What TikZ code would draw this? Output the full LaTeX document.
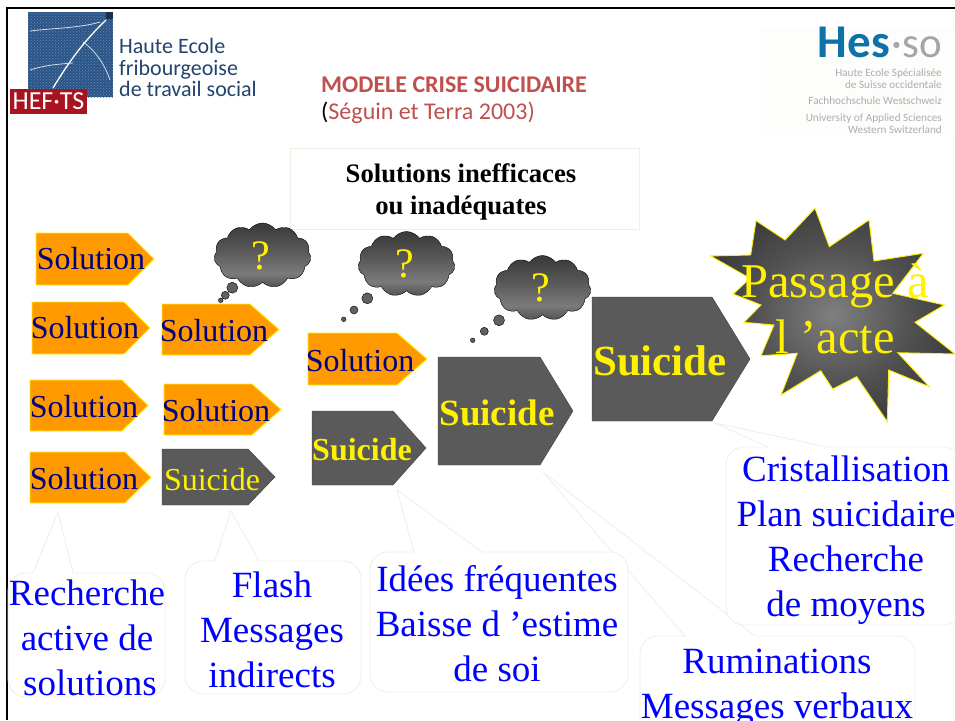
\documentclass[tikz,border=0pt]{standalone}
\usepackage{fontspec}
\setmainfont{Liberation Serif}
\newfontfamily\calibrifont{Carlito}
\usetikzlibrary{shapes.symbols,patterns}
\definecolor{boxorange}{HTML}{FF9900}
\definecolor{boxgray}{HTML}{5A5A5A}
\definecolor{linecream}{HTML}{EFEFE6}
\definecolor{titlered}{HTML}{C0504D}
\definecolor{leafblue}{HTML}{2A5588}
\definecolor{heftsred}{HTML}{A8131F}
\definecolor{hesblue}{HTML}{0E72A8}
\definecolor{panelwhite}{HTML}{FDFDFC}
\pgfdeclareverticalshading{cloudshade}{100bp}{color(0bp)=(black!68); color(25bp)=(black!68); color(36bp)=(black!52); color(55bp)=(black!66); color(72bp)=(black!76); color(100bp)=(black!76)}
\pgfdeclareradialshading{starshade}{\pgfpointorigin}{color(0bp)=(black!50); color(16bp)=(black!68); color(26bp)=(black!76); color(50bp)=(black!76)}
\tikzset{
    solutionbox/.style={draw=yellow, line width=0.9pt, fill=boxorange},
    solutionboxtext/.style={text=blue!50!black, inner sep=0pt, font=\fontsize{32}{32}\selectfont},
    suicidebox/.style={draw=black!75, fill=boxgray},
    suicideboxtext/.style={text=yellow, inner sep=0pt, font=\fontsize{32}{32}\selectfont\bfseries},
    thoughtcloud/.style={cloud, cloud puffs=11, cloud puff arc=110, aspect=1.5, draw=black, shading=cloudshade, text=yellow, inner sep=0pt, minimum width=97, minimum height=65, font=\fontsize{42}{42}\selectfont},
    bubble/.style={draw=black, fill=black!62},
    calloutline/.style={draw=linecream, fill=white, line width=0.8pt},
    callouttext/.style={text=blue, align=center, inner sep=0pt, font=\fontsize{37}{45}\selectfont},
    logotext/.style={text=leafblue!80!black, align=left, anchor=west, inner sep=0pt, font=\calibrifont\fontsize{22}{21.5}\selectfont},
    hestext/.style={text=black!32, align=right, anchor=east, inner sep=0pt, font=\calibrifont\fontsize{11.2}{12}\selectfont}
}
\newcommand{\calloutbox}[7]{\path[calloutline] (#6,#2) [rounded corners=18] -- (#3,#2) -- (#3,#4) -- (#1,#4) -- (#1,#2) [sharp corners] -- (#5,#2) -- (#7) -- cycle;}
\newcommand{\arrowbox}[9]{\path[#1] (#3,#4) -- (#5-#7,#4) -- (#5,#4/2+#6/2) -- (#5-#7,#6) -- (#3,#6) -- cycle;
        \node[#1text] (#2) at (#8) {#9};}
\begin{document}
\begin{tikzpicture}[x=1pt,y=-1pt]
        \useasboundingbox (0,0) rectangle (955,720);
        \fill[white] (0,0) rectangle (955,720);
        \fill[panelwhite] (760,27) rectangle (955,136);
        \draw[black, line width=2.5pt] (955,8) -- (7,8) -- (7,720);

        \fill[leafblue] (28,12) rectangle (113,97);
        \fill[pattern=crosshatch dots, pattern color=white!30!leafblue] (28,12) rectangle (113,97);
        \fill[leafblue!55!black] (106,12) rectangle (113,19);
        \draw[white, line width=1.3pt] (53,88) .. controls (70,60) and (85,40) .. (106,20);
        \draw[white!80!leafblue, line width=0.8pt] (30,31) .. controls (55,28) and (80,28) .. (100,22);
        \draw[white!80!leafblue, line width=0.8pt] (30,70) .. controls (45,65) and (60,64) .. (73,63);
        \draw[white!80!leafblue, line width=0.8pt] (83,42) .. controls (95,50) and (105,65) .. (110,80);
        \node[fill=heftsred, text=white, inner sep=0pt, minimum width=77, minimum height=25, font=\calibrifont\fontsize{26}{26}\selectfont] (hefts) at (48.5,101.5) {HEF·TS};
        \node[logotext] (hautelogo) at (119,67.5) {Haute Ecole\\fribourgeoise\\de travail social};

        \node[text=hesblue, anchor=base east, inner sep=0pt, font=\calibrifont\fontsize{47}{47}\selectfont\bfseries] (hes) at (890,57) {Hes};
        \node[text=black!35, anchor=base east, inner sep=0pt, font=\calibrifont\fontsize{43}{43}\selectfont] (so) at (942,57) {·so};
        \node[hestext] (hesone) at (942,78.5) {Haute Ecole Spécialisée\\de Suisse occidentale};
        \node[hestext] (hestwo) at (942,101) {Fachhochschule Westschweiz};
        \node[hestext] (hesthree) at (942,124) {University of Applied Sciences\\Western Switzerland};

        \node[anchor=west, inner sep=0pt, text=titlered, font=\calibrifont\fontsize{24}{24}\selectfont\bfseries] (title) at (321,85) {MODELE CRISE SUICIDAIRE};
        \node[anchor=west, inner sep=0pt, text=titlered, font=\calibrifont\fontsize{24}{24}\selectfont] (source) at (321,113) {\textcolor{black}{(}Séguin et Terra 2003)};

        \calloutbox{640}{636}{915}{790}{685}{755}{543,472}
        \calloutbox{370}{552}{628}{692}{414}{482}{397,490}
        \calloutbox{8}{573}{165}{697}{33}{73}{58,512}
        \calloutbox{185}{561}{361}{694}{215}{259}{231,511}
        \calloutbox{726}{447}{962}{625}{768}{827}{715,423}

        \node[draw=linecream, fill=white, inner sep=0pt, minimum width=349, minimum height=81] (ineffective) at (464.5,188.5) {};
        \node[align=center, inner sep=0pt, font=\fontsize{26.7}{32}\selectfont\bfseries] (ineffectivetext) at (461,192) {Solutions inefficaces\\ ou inadéquates};

        \arrowbox{solutionbox}{solA}{36}{233}{154}{285}{26}{91,259}{Solution}
        \arrowbox{solutionbox}{solB}{32}{302}{150}{354}{26}{85,328}{Solution}
        \arrowbox{solutionbox}{solC}{30}{380}{148}{431}{26}{84,407}{Solution}
        \arrowbox{solutionbox}{solD}{30}{452}{151}{503}{26}{84,479}{Solution}
        \arrowbox{solutionbox}{solE}{162}{304}{279}{355}{29}{214,331}{Solution}
        \arrowbox{solutionbox}{solF}{164}{384}{281}{435}{29}{216,411}{Solution}
        \arrowbox{solutionbox}{solG}{308}{333}{427}{385}{30}{360,361}{Solution}

        \arrowbox{suicidebox}{suiA}{162}{449}{275}{505}{27}{212,480}{\normalfont\fontsize{32}{32}\selectfont Suicide}
        \arrowbox{suicidebox}{suiB}{312}{411}{426}{485}{33}{362,450}{Suicide}
        \arrowbox{suicidebox}{suiC}{438}{357}{573}{465}{33}{497,413}{\fontsize{37}{37}\selectfont Suicide}
        \arrowbox{suicidebox}{suiD}{592}{297}{750}{421}{38}{660,361}{\fontsize{43}{43}\selectfont Suicide}

        \node[thoughtcloud] (cloudA) at (262.5,255.5) {?\kern4pt};
        \filldraw[bubble] (232.3,287.7) circle [radius=5.5];
        \filldraw[bubble] (225.3,295.3) circle [radius=4];
        \filldraw[bubble] (220.7,300.3) circle [radius=2.3];
        \node[thoughtcloud] (cloudB) at (406.5,264) {?\kern4pt};
        \filldraw[bubble] (367.3,298.3) circle [radius=5.5];
        \filldraw[bubble] (354,310) circle [radius=4];
        \filldraw[bubble] (343.7,319.3) circle [radius=2.3];
        \node[thoughtcloud] (cloudC) at (542.5,288) {?\kern4pt};
        \filldraw[bubble] (499,320.3) circle [radius=5.5];
        \filldraw[bubble] (484.3,331.3) circle [radius=4];
        \filldraw[bubble] (472.7,340.3) circle [radius=2.3];

        \path[draw=yellow, line width=0.9pt, shading=starshade] (815,208.3) -- (829.3,246.7) -- (869,220) -- (874,261) -- (923.3,253.3) -- (892.7,293.3) -- (944.3,305) -- (915,322.3) -- (955,354) -- (897.7,352.7) -- (929.3,386.7) -- (888.7,370) -- (887.3,421.7) -- (856.7,376.7) -- (832.7,389) -- (820.7,370.7) -- (781,395) -- (797.3,353.3) -- (761,355.7) -- (774,325) -- (744,322.3) -- (761,305) -- (733.3,294) -- (750,278.3) -- (710.7,256) -- (750.7,255) -- (756,220.7) -- (785,240) -- cycle;
        \node[text=yellow, align=center, inner sep=0pt, font=\fontsize{48.5}{56}\selectfont] (passage) at (835,309) {Passage à\\l ’acte};

        \node[callouttext] (recherche) at (87,638) {Recherche\\active de\\\hspace{6pt}solutions};
        \node[callouttext] (flash) at (272,630) {Flash\\Messages\\indirects};
        \node[callouttext] (idees) at (497,623.5) {Idées fréquentes\\Baisse d ’estime\\de soi};
        \node[callouttext, anchor=north] (ruminations) at (777,649) {Ruminations\\Messages verbaux};
        \node[callouttext] (cristal) at (846,540.5) {Cristallisation\\Plan suicidaire\\Recherche\\de moyens};
\end{tikzpicture}
\end{document}
